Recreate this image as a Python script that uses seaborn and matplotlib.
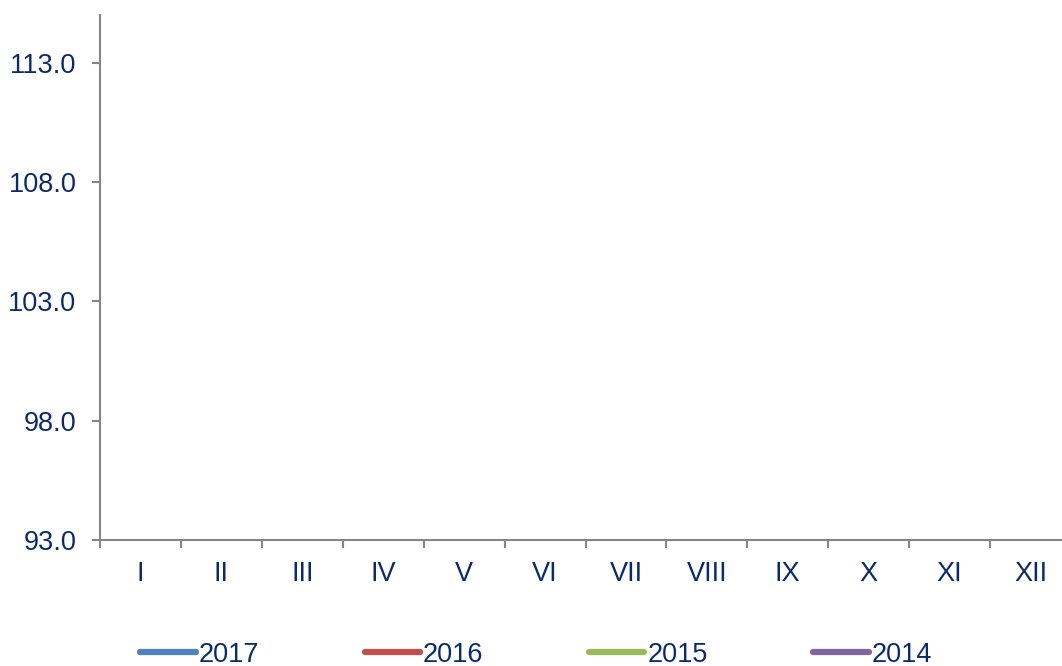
import matplotlib
matplotlib.use("Agg")
import matplotlib.pyplot as plt
import numpy as np
import pandas as pd
import seaborn as sns
from matplotlib.ticker import FixedLocator, NullFormatter


MONTHS = ["I", "II", "III", "IV", "V", "VI", "VII", "VIII", "IX", "X", "XI", "XII"]
YEARS = ["2017", "2016", "2015", "2014"]
COLORS = ["#4F81BD", "#C0504D", "#9BBB59", "#8064A2"]
# the reference shows no plotted values for any year
VALUES_2017 = [np.nan] * 12
VALUES_2016 = [np.nan] * 12
VALUES_2015 = [np.nan] * 12
VALUES_2014 = [np.nan] * 12
Y_TICKS = [93.0, 98.0, 103.0, 108.0, 113.0]

TEXT = "#0C2A6B"
AXIS = "#868686"


def main() -> None:
  sns.set_theme(style="white")
  plt.rcParams["font.family"] = ["Liberation Sans", "DejaVu Sans"]

  fig = plt.figure(figsize=(10.62, 6.66), dpi=100)
  ax = fig.add_axes([100 / 1062, 126 / 666, 971 / 1062, 525 / 666])

  series = [VALUES_2017, VALUES_2016, VALUES_2015, VALUES_2014]
  x = np.arange(len(MONTHS))
  for year, vals, color in zip(YEARS, series, COLORS):
    ax.plot(x, vals, color=color, linewidth=4.5, solid_capstyle="round", label=year)

  ax.set_xlim(-0.5, len(MONTHS) - 0.5)
  ax.set_ylim(93.0, 115.0)
  ax.set_yticks(Y_TICKS)
  ax.set_yticklabels([f"{v:.1f}" for v in Y_TICKS])
  ax.set_xticks(x)
  ax.set_xticklabels(MONTHS)
  ax.xaxis.set_minor_locator(FixedLocator(np.arange(-0.5, len(MONTHS), 1.0)))
  ax.xaxis.set_minor_formatter(NullFormatter())

  for side in ["top", "right"]:
    ax.spines[side].set_visible(False)
  for side in ["left", "bottom"]:
    ax.spines[side].set_color(AXIS)
    ax.spines[side].set_linewidth(1.5)

  ax.tick_params(axis="y", which="major", length=6, width=1.5, color=AXIS,
                 direction="out", left=True, pad=11, labelsize=19.5, labelcolor=TEXT)
  ax.tick_params(axis="x", which="major", length=0, pad=15, labelsize=19.5, labelcolor=TEXT)
  ax.tick_params(axis="x", which="minor", length=6, width=1.5, color=AXIS,
                 direction="out", bottom=True)
  ax.grid(False)

  leg = fig.legend(loc="center", bbox_to_anchor=(536 / 1062, 11.5 / 666), ncol=4,
                   frameon=False, fontsize=19.5, handlelength=2.05, handletextpad=0.1,
                   columnspacing=3.9, borderaxespad=0)
  for t in leg.get_texts():
    t.set_color(TEXT)

  fig.savefig("out.png", dpi=100)
  plt.close(fig)


if __name__ == "__main__":
  main()
